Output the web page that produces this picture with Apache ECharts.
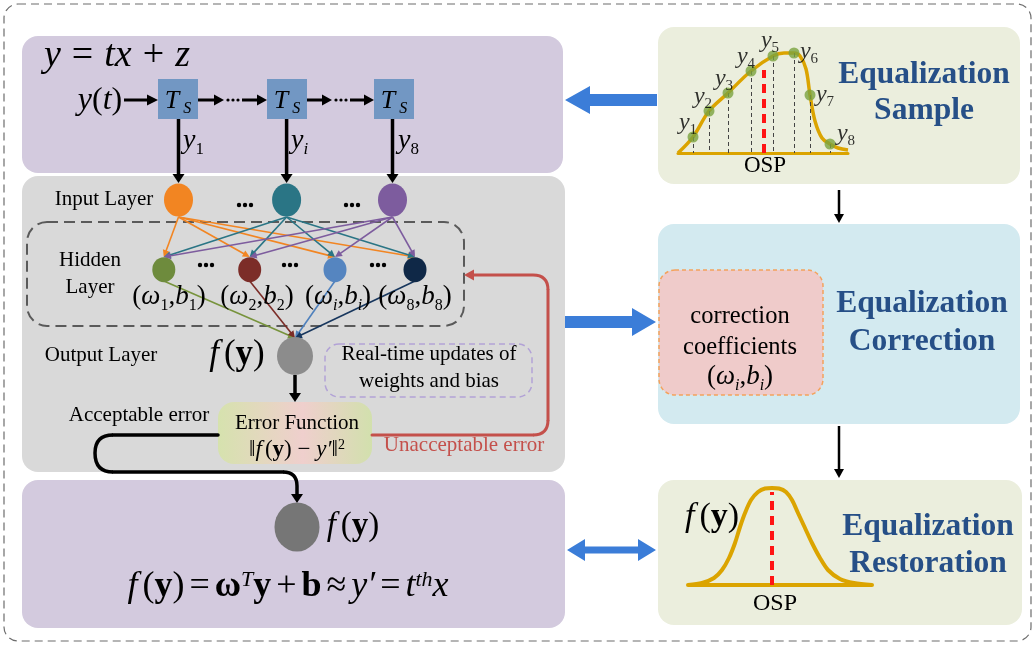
<!DOCTYPE html>
<html><head><meta charset="utf-8">
<script src="https://cdn.jsdelivr.net/npm/echarts@6/dist/echarts.min.js"></script>
<style>html,body{margin:0;padding:0;background:#fff}#c{width:1036px;height:646px}</style>
</head><body><div id="c"></div>
<script>
// ---------- data ----------
const samplePointX = [15, 31, 50, 73, 95, 116, 132, 152];
const samplePointY = [16, 42, 60, 82, 97, 100, 58, 9];
const sampleLabels = ['1', '2', '3', '4', '5', '6', '7', '8'];
const sampleCurveX = [0, 15, 31, 50, 73, 95, 106, 116, 122, 128, 132, 137, 144, 152, 160, 170];
const sampleCurveY = [0, 16, 42, 60, 82, 97, 100, 100, 97, 84, 58, 32, 15, 9, 5, 3];
const sampleOspX = 86, sampleOspTop = 83;
const restoreCurveX = [0, 14, 26, 34, 41, 47, 52, 57, 63, 70, 77, 84, 91, 98, 104, 110, 117, 124, 132, 140, 152, 166, 184];
const restoreCurveY = [0, 2, 7, 15, 27, 42, 58, 72, 85, 93, 96.5, 97, 96.5, 93, 85, 72, 57, 42, 27, 15, 6, 2, 0];
const restoreOspX = 84, restoreOspTop = 93;

// ---------- layout (not data) ----------
const sampleLabelOffset = [[-5,-14],[-6,-14],[-4,-14],[-5,-14],[-3,-15],[15,-1],[15,0],[16,-10]];
const SERIF = "'Liberation Serif','Times New Roman',serif";
const G = [];

function M(size, color) {
  const ss = Math.round(size * 0.6);
  const base = {fontFamily: SERIF, fontSize: size, lineHeight: size, verticalAlign: 'top'};
  const o = {
    i: Object.assign({}, base, {fontStyle: 'italic'}),
    f: Object.assign({}, base, {fontStyle: 'italic', padding: [0, Math.round(size * 0.14), 0, 0]}),
    n: Object.assign({}, base),
    o: Object.assign({}, base, {padding: [0, Math.round(size * 0.28), 0, Math.round(size * 0.28)]}),
    q: Object.assign({}, base, {padding: [0, Math.round(size * 0.13), 0, Math.round(size * 0.13)]}),
    b: Object.assign({}, base, {fontWeight: 'bold'}),
    s: {fontFamily: SERIF, fontSize: ss, lineHeight: ss, verticalAlign: 'top', padding: [Math.round(size * 0.5), 0, 0, 0]},
    si: {fontFamily: SERIF, fontSize: ss, lineHeight: ss, verticalAlign: 'top', fontStyle: 'italic', padding: [Math.round(size * 0.5), 0, 0, 0]},
    p: {fontFamily: SERIF, fontSize: ss, lineHeight: ss, verticalAlign: 'top', padding: [0, 0, 0, 0]},
    pi: {fontFamily: SERIF, fontSize: ss, lineHeight: ss, verticalAlign: 'top', fontStyle: 'italic', padding: [0, 0, 0, 0]}
  };
  if (color) for (const k in o) o[k].fill = color;
  return o;
}
function T(x, y, text, size, opt) {
  opt = opt || {};
  G.push({type: 'text', x: x, y: y, z: 30, style: {
    text: text, rich: M(size, opt.color), fill: opt.color || '#000',
    align: opt.align || 'center', verticalAlign: 'middle',
    fontFamily: SERIF, fontSize: size, fontWeight: opt.weight || 'normal', fontStyle: opt.style || 'normal'
  }});
}
function RR(x, y, w, h, r, fill, stroke, dash, lw, z) {
  G.push({type: 'rect', z: z || 0, shape: {x: x, y: y, width: w, height: h, r: r},
    style: {fill: fill || 'none', stroke: stroke || 'none', lineWidth: lw || 0, lineDash: dash || null}});
}
function EL(cx, cy, rx, ry, fill) {
  G.push({type: 'circle', z: 20, x: cx, y: cy, scaleX: rx / 10, scaleY: ry / 10, shape: {cx: 0, cy: 0, r: 10}, style: {fill: fill}});
}
function head(x1, y1, x2, y2, color, len, hw, z) {
  const a = Math.atan2(y2 - y1, x2 - x1), c = Math.cos(a), s = Math.sin(a);
  const bx = x2 - c * len, by = y2 - s * len;
  G.push({type: 'polygon', z: z || 15, shape: {points: [[x2, y2], [bx - s * hw, by + c * hw], [bx + s * hw, by - c * hw]]}, style: {fill: color}});
}
function ARW(x1, y1, x2, y2, color, lw, len, hw, z) {
  const a = Math.atan2(y2 - y1, x2 - x1);
  G.push({type: 'line', z: z || 15, shape: {x1: x1, y1: y1, x2: x2 - Math.cos(a) * len * 0.8, y2: y2 - Math.sin(a) * len * 0.8}, style: {stroke: color, lineWidth: lw}});
  head(x1, y1, x2, y2, color, len, hw, z);
}
function LN(x1, y1, x2, y2, color, lw, z) {
  G.push({type: 'line', z: z || 15, shape: {x1: x1, y1: y1, x2: x2, y2: y2}, style: {stroke: color, lineWidth: lw, lineCap: 'round'}});
}
function BZ(x1, y1, cx, cy, x2, y2, color, lw) {
  G.push({type: 'bezierCurve', z: 15, shape: {x1: x1, y1: y1, cpx1: cx, cpy1: cy, x2: x2, y2: y2}, style: {stroke: color, lineWidth: lw, fill: 'none'}});
}
function DOTS(cx, cy, r, gap) {
  for (let k = -1; k <= 1; k++) G.push({type: 'circle', z: 20, shape: {cx: cx + k * gap, cy: cy, r: r}, style: {fill: '#000'}});
}
function POLY(pts, color) { G.push({type: 'polygon', z: 15, shape: {points: pts}, style: {fill: color}}); }

// outer dashed frame
RR(4, 4, 1027, 637, 14, 'none', '#6d6d6d', [8, 5], 1.2, 1);

// left column boxes
RR(22, 36, 541, 137, 16, '#d3cade');
RR(22, 176, 543, 296, 16, '#d9d9d9');
RR(22, 480, 543, 148, 16, '#d3cade');
// right column boxes
RR(658, 27, 362, 157, 16, '#ebeedd');
RR(658, 224, 362, 200, 16, '#d3eaf0');
RR(658, 480, 364, 145, 16, '#ebeedd');

// ---- top purple box ----
T(44, 56, '{i|y}{o|=}{i|tx}{o|+}{i|z}', 38, {align: 'left'});
T(100, 101, '{i|y}{n|(}{i|t}{n|)}', 32);
const tsX = [158, 267, 374];
tsX.forEach(function (x) {
  RR(x, 79, 40, 40, 0, '#7297c3', null, null, 0, 5);
  T(x + 20, 101, '{i|T}{si| S}', 26);
});
ARW(124, 100, 158, 100, '#000', 3, 11, 5.5);
ARW(198, 100, 224, 100, '#000', 3, 10, 5.5);
DOTS(233, 100, 1.6, 5);
ARW(242, 100, 267, 100, '#000', 3, 10, 5.5);
ARW(307, 100, 332, 100, '#000', 3, 10, 5.5);
DOTS(341, 100, 1.6, 5);
ARW(350, 100, 374, 100, '#000', 3, 10, 5.5);
const inX = [178.5, 286.6, 392.5];
inX.forEach(function (x) { ARW(x, 119, x, 183, '#000', 3.5, 9, 6); });
T(183, 141, '{i|y}{s|1}', 28, {align: 'left'});
T(291, 141, '{i|y}{si|i}', 28, {align: 'left'});
T(398, 141, '{i|y}{s|8}', 28, {align: 'left'});

// ---- neural network ----
T(104, 199, 'Input Layer', 21);
T(90, 260, 'Hidden', 21);
T(90, 287, 'Layer', 21);
T(101, 355, 'Output Layer', 21);
RR(27, 222, 437, 104, 20, 'none', '#5a5a5a', [11, 6], 2, 12);
const inColor = ['#f28522', '#2a7585', '#7d5c9e'];
const hidX = [163.8, 249.7, 335, 415];
const hidColor = ['#6e8b3d', '#7c2d28', '#5585c0', '#0f2847'];
const hidLineColor = ['#77933c', '#7c2d28', '#4f81bd', '#17365d'];
inX.forEach(function (ix, a) {
  hidX.forEach(function (hx) {
    ARW(ix, 217, hx, 257, inColor[a], 1.6, 7, 3.5);
  });
});
hidX.forEach(function (hx, b) {
  ARW(hx, 281, 295, 338, hidLineColor[b], 1.6, 7, 3.5);
});
inX.forEach(function (x, a) { EL(x, 200, 14.5, 16.5, inColor[a]); });
hidX.forEach(function (x, b) { EL(x, 269.7, 11.5, 12.5, hidColor[b]); });
DOTS(245, 205, 2.2, 6);
DOTS(352, 205, 2.2, 6);
DOTS(206, 265, 2.2, 6);
DOTS(290, 265, 2.2, 6);
DOTS(378, 265, 2.2, 6);
T(169, 297, '{n|(}{i|ω}{s|1}{n|,}{i|b}{s|1}{n|)}', 27);
T(257, 297, '{n|(}{i|ω}{s|2}{n|,}{i|b}{s|2}{n|)}', 27);
T(338, 297, '{n|(}{i|ω}{si|i}{n|,}{i|b}{si|i}{n|)}', 27);
T(415, 297, '{n|(}{i|ω}{s|8}{n|,}{i|b}{s|8}{n|)}', 27);
EL(295, 356, 18, 19, '#8c8c8c');
T(237, 355, '{f|f}{n|(}{b|y}{n|)}', 35);
RR(325, 344, 207, 53, 14, 'none', '#b2a2d6', [6, 4], 1.5, 12);
T(429, 354, 'Real-time updates of', 21);
T(429, 381, 'weights and bias', 21);
ARW(295, 375, 295, 402, '#000', 3.5, 9, 6);
G.push({type: 'rect', z: 5, shape: {x: 218, y: 402, width: 154, height: 62, r: 16}, style: {fill: {
  type: 'linear', x: 0, y: 0, x2: 1, y2: 0,
  colorStops: [{offset: 0, color: '#d6e2ae'}, {offset: 0.55, color: '#efcfcd'}, {offset: 1, color: '#d2e0ad'}]}}});
T(297, 423, 'Error Function', 21);
T(297, 450, '{n|‖}{f|f}{n|(}{b|y}{n|) − }{i|y′}{n|‖}{p|2}', 23);
T(139, 415, 'Acceptable error', 21);
// black path (acceptable)
LN(218, 435, 113, 435, '#000', 3.5);
BZ(113, 435, 95, 435, 95, 453, '#000', 3.5);
BZ(95, 453, 95, 472, 113, 472, '#000', 3.5);
LN(113, 472, 283, 472, '#000', 3.5);
BZ(283, 472, 297, 472, 297, 486, '#000', 3.5);
ARW(297, 486, 297, 503, '#000', 3.5, 9, 6);
// red path (unacceptable)
const RED = '#c4504b';
LN(372, 435, 533, 435, RED, 3);
BZ(533, 435, 548, 435, 548, 420, RED, 3);
LN(548, 420, 548, 290, RED, 3);
BZ(548, 290, 548, 275, 533, 275, RED, 3);
ARW(533, 275, 464, 275, RED, 3, 10, 5.5);
T(464, 445, 'Unacceptable error', 21, {color: RED});

// ---- bottom purple box ----
EL(297, 527, 22.5, 24.5, '#767676');
T(353, 526, '{f|f}{n|(}{b|y}{n|)}', 33);
T(288, 587, '{f|f}{n|(}{b|y}{n|)}{q|=}{b|ω}{pi|T}{b|y}{q|+}{b|b}{q|≈}{i|y′}{q|=}{i|t}{pi|th}{i|x}', 36);

// ---- right column ----
const BLUE_T = '#264f87';
T(924, 75, 'Equalization', 31.5, {weight: 'bold', color: BLUE_T});
T(924, 111, 'Sample', 31.5, {weight: 'bold', color: BLUE_T});
T(765, 166, 'OSP', 23);
T(922, 304, 'Equalization', 31.5, {weight: 'bold', color: BLUE_T});
T(922, 342, 'Correction', 31.5, {weight: 'bold', color: BLUE_T});
RR(659, 270, 164, 125, 16, '#efcbca', '#f4a25c', [4, 3], 1.5, 6);
T(740, 317, 'correction', 24.5);
T(740, 348, 'coefficients', 24.5);
T(740, 377, '{n|(}{i|ω}{si|i}{n|,}{i|b}{si|i}{n|)}', 27);
T(928, 527, 'Equalization', 31.5, {weight: 'bold', color: BLUE_T});
T(928, 564, 'Restoration', 31.5, {weight: 'bold', color: BLUE_T});
T(775, 604, 'OSP', 24);
T(712, 517, '{f|f}{n|(}{b|y}{n|)}', 34);
// black connectors
ARW(839, 190, 839, 223, '#000', 2.5, 9, 5);
ARW(839, 426, 839, 478, '#000', 2.5, 9, 5);
// blue arrows
const BL = '#3b7dd8';
POLY([[565, 100], [590, 86], [590, 94], [657, 94], [657, 106], [590, 106], [590, 114]], BL);
POLY([[656, 322], [632, 308], [632, 316], [565, 316], [565, 328], [632, 328], [632, 336]], BL);
POLY([[567, 550], [585, 539], [585, 546.5], [638, 546.5], [638, 539], [656, 550], [638, 561], [638, 553.5], [585, 553.5], [585, 561]], BL);

// ---------- chart ----------
const chart = echarts.init(document.getElementById('c'));
const hiddenAxis = {axisTick: {show: false}, axisLabel: {show: false}, splitLine: {show: false}};
const GOLD = '#dba400';
const labelRich = {
  i: {fontFamily: SERIF, fontStyle: 'italic', fontSize: 24, lineHeight: 24, verticalAlign: 'top', color: '#000'},
  s: {fontFamily: SERIF, fontSize: 15, lineHeight: 15, verticalAlign: 'top', padding: [12, 0, 0, 0], color: '#000'}
};
chart.setOption({
  animation: false,
  grid: [{left: 678, top: 40, width: 170, height: 113}, {left: 688, top: 488, width: 184, height: 97}],
  xAxis: [
    Object.assign({gridIndex: 0, type: 'value', min: 0, max: 170, axisLine: {show: true, onZero: true, lineStyle: {color: GOLD, width: 3}}}, hiddenAxis),
    Object.assign({gridIndex: 1, type: 'value', min: 0, max: 184, axisLine: {show: true, onZero: true, lineStyle: {color: GOLD, width: 4}}}, hiddenAxis)
  ],
  yAxis: [
    {gridIndex: 0, type: 'value', min: 0, max: 113, show: false},
    {gridIndex: 1, type: 'value', min: 0, max: 97, show: false}
  ],
  series: [
    {type: 'line', xAxisIndex: 0, yAxisIndex: 0, smooth: 0.35, showSymbol: false, z: 4,
      data: sampleCurveX.map(function (x, i) { return [x, sampleCurveY[i]]; }),
      lineStyle: {color: GOLD, width: 3.5},
      markLine: {symbol: ['none', 'none'], silent: true, label: {show: false}, animation: false,
        lineStyle: {color: '#ff1414', width: 4, type: [9, 6]},
        data: [[{coord: [sampleOspX, 0]}, {coord: [sampleOspX, sampleOspTop]}]]}},
    {type: 'scatter', xAxisIndex: 0, yAxisIndex: 0, symbolSize: 11, z: 5,
      itemStyle: {color: '#7ba23f'},
      label: {show: true, position: 'inside', rich: labelRich,
        formatter: function (p) { return '{i|y}{s|' + sampleLabels[p.dataIndex] + '}'; }},
      data: samplePointX.map(function (x, i) { return {value: [x, samplePointY[i]], label: {offset: sampleLabelOffset[i]}}; }),
      markLine: {symbol: ['none', 'none'], silent: true, label: {show: false}, animation: false,
        lineStyle: {color: '#444', width: 1, type: [4, 3]},
        data: samplePointX.map(function (x, i) { return [{coord: [x, samplePointY[i]]}, {coord: [x, 0]}]; })}},
    {type: 'line', xAxisIndex: 1, yAxisIndex: 1, smooth: 0.3, showSymbol: false, z: 4,
      data: restoreCurveX.map(function (x, i) { return [x, restoreCurveY[i]]; }),
      lineStyle: {color: GOLD, width: 4},
      markLine: {symbol: ['none', 'none'], silent: true, label: {show: false}, animation: false,
        lineStyle: {color: '#ff1414', width: 4, type: [9, 6]},
        data: [[{coord: [restoreOspX, 0]}, {coord: [restoreOspX, restoreOspTop]}]]}}
  ],
  graphic: {elements: G}
});
</script>
</body></html>
